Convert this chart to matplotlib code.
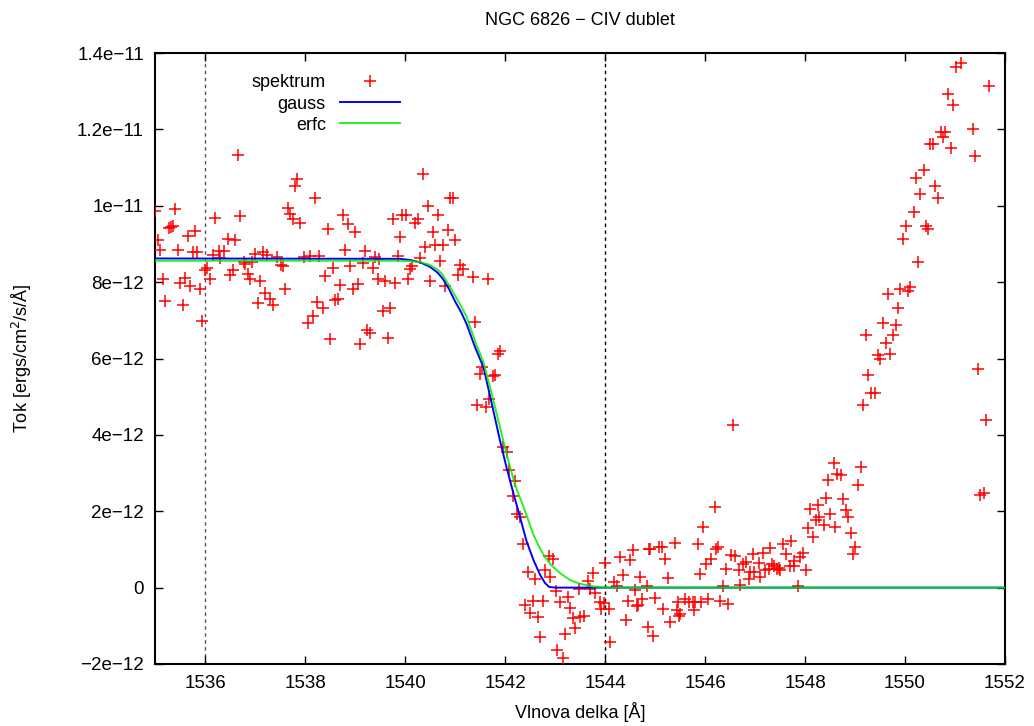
import numpy as np
import matplotlib
matplotlib.use('Agg')
import matplotlib.pyplot as plt

plt.rcParams['font.family'] = ['Liberation Sans', 'DejaVu Sans']
plt.rcParams['axes.unicode_minus'] = True

# spektrum - wavelength [A] and flux [1e-12 ergs/cm2/s/A]
wl = [1535.00, 1535.05, 1535.10, 1535.15, 1535.19, 1535.27, 1535.31, 1535.35, 1535.39, 1535.45,
      1535.50, 1535.55, 1535.59, 1535.65, 1535.69, 1535.75, 1535.79, 1535.83, 1535.90, 1535.94,
      1536.00, 1536.03, 1536.09, 1536.15, 1536.20, 1536.27, 1536.29, 1536.38, 1536.45, 1536.50,
      1536.55, 1536.60, 1536.65, 1536.69, 1536.78, 1536.80, 1536.85, 1536.89, 1536.93, 1536.99,
      1537.05, 1537.09, 1537.15, 1537.20, 1537.23, 1537.29, 1537.35, 1537.43, 1537.51, 1537.55,
      1537.60, 1537.65, 1537.70, 1537.75, 1537.79, 1537.84, 1537.90, 1537.97, 1538.05, 1538.09,
      1538.15, 1538.19, 1538.23, 1538.27, 1538.35, 1538.40, 1538.45, 1538.50, 1538.55, 1538.60,
      1538.65, 1538.70, 1538.75, 1538.80, 1538.85, 1538.90, 1538.95, 1539.00, 1539.05, 1539.10,
      1539.15, 1539.20, 1539.23, 1539.30, 1539.35, 1539.40, 1539.45, 1539.48, 1539.55, 1539.60,
      1539.65, 1539.70, 1539.75, 1539.80, 1539.85, 1539.90, 1539.94, 1540.01, 1540.05, 1540.10,
      1540.13, 1540.20, 1540.25, 1540.30, 1540.35, 1540.40, 1540.45, 1540.50, 1540.55, 1540.59,
      1540.65, 1540.70, 1540.75, 1540.80, 1540.85, 1540.90, 1540.95, 1541.00, 1541.05, 1541.10,
      1541.15, 1541.35, 1541.40, 1541.43, 1541.50, 1541.53, 1541.61, 1541.65, 1541.68, 1541.75,
      1541.79, 1541.85, 1541.89, 1541.95, 1542.03, 1542.08, 1542.15, 1542.20, 1542.23, 1542.30,
      1542.35, 1542.40, 1542.45, 1542.50, 1542.55, 1542.60, 1542.65, 1542.70, 1542.75, 1542.80,
      1542.87, 1542.90, 1542.95, 1543.01, 1543.03, 1543.10, 1543.15, 1543.20, 1543.25, 1543.30,
      1543.35, 1543.40, 1543.47, 1543.50, 1543.57, 1543.65, 1543.70, 1543.75, 1543.80, 1543.89,
      1543.91, 1543.98, 1544.00, 1544.07, 1544.10, 1544.17, 1544.23, 1544.30, 1544.35, 1544.41,
      1544.46, 1544.50, 1544.55, 1544.60, 1544.63, 1544.65, 1544.70, 1544.74, 1544.83, 1544.85,
      1544.87, 1544.90, 1544.95, 1545.00, 1545.07, 1545.13, 1545.15, 1545.20, 1545.25, 1545.30,
      1545.40, 1545.43, 1545.45, 1545.47, 1545.50, 1545.60, 1545.68, 1545.75, 1545.77, 1545.80,
      1545.85, 1545.90, 1545.92, 1545.95, 1546.02, 1546.05, 1546.11, 1546.20, 1546.22, 1546.25,
      1546.30, 1546.35, 1546.41, 1546.45, 1546.51, 1546.55, 1546.60, 1546.67, 1546.70, 1546.75,
      1546.81, 1546.87, 1546.90, 1546.95, 1546.97, 1547.07, 1547.10, 1547.15, 1547.20, 1547.27,
      1547.30, 1547.33, 1547.37, 1547.43, 1547.48, 1547.50, 1547.55, 1547.61, 1547.69, 1547.71,
      1547.77, 1547.78, 1547.85, 1547.90, 1547.95, 1548.01, 1548.06, 1548.10, 1548.15, 1548.21,
      1548.25, 1548.27, 1548.37, 1548.41, 1548.45, 1548.50, 1548.57, 1548.60, 1548.63, 1548.71,
      1548.75, 1548.81, 1548.85, 1548.91, 1548.95, 1549.00, 1549.05, 1549.11, 1549.16, 1549.21,
      1549.26, 1549.31, 1549.40, 1549.45, 1549.50, 1549.55, 1549.61, 1549.65, 1549.70, 1549.75,
      1549.81, 1549.85, 1549.90, 1549.96, 1550.01, 1550.05, 1550.09, 1550.17, 1550.21, 1550.25,
      1550.30, 1550.37, 1550.41, 1550.45, 1550.50, 1550.55, 1550.60, 1550.65, 1550.71, 1550.75,
      1550.80, 1550.85, 1550.91, 1550.95, 1551.01, 1551.12, 1551.35, 1551.40, 1551.45, 1551.50,
      1551.57, 1551.61, 1551.67]
flux = [9.85, 9.10, 8.83, 8.07, 7.51, 9.42, 9.44, 9.47, 9.91, 8.83,
        7.99, 7.39, 8.12, 9.21, 7.89, 8.78, 9.34, 8.80, 7.81, 6.99,
        8.31, 8.37, 8.09, 8.70, 9.68, 8.81, 8.62, 8.81, 9.12, 8.18,
        8.31, 9.10, 11.32, 9.72, 8.52, 8.48, 8.22, 8.08, 8.54, 8.73,
        7.46, 8.03, 8.79, 7.72, 8.70, 7.57, 7.40, 8.67, 8.44, 8.41,
        7.83, 9.93, 9.78, 9.65, 10.52, 10.71, 9.54, 8.66, 6.92, 8.69,
        7.11, 10.21, 7.48, 8.68, 7.31, 8.16, 9.38, 6.51, 8.37, 7.52,
        7.57, 7.93, 9.75, 8.83, 9.51, 8.41, 7.83, 9.31, 7.96, 6.39,
        8.50, 8.82, 6.74, 6.68, 8.37, 8.66, 8.09, 8.60, 7.24, 8.02,
        6.53, 7.31, 9.64, 7.98, 8.68, 9.18, 9.77, 9.77, 8.07, 8.35,
        8.41, 9.56, 9.66, 8.62, 10.83, 8.92, 9.99, 8.02, 9.30, 8.96,
        9.75, 8.56, 8.96, 7.90, 9.36, 10.21, 10.21, 9.10, 8.18, 8.46,
        8.34, 8.13, 6.95, 4.77, 5.60, 5.77, 4.73, 8.09, 4.95, 5.54,
        5.58, 6.11, 6.19, 3.68, 3.55, 3.07, 2.41, 2.79, 1.93, 1.84,
        1.13, -0.45, 0.40, -0.67, -0.34, 0.23, -0.76, -1.30, -0.34, 0.45,
        0.84, 0.27, 0.75, -0.08, -1.63, -0.38, -1.83, -1.21, -0.24, -0.54,
        -0.80, -1.07, -0.03, -0.78, -0.73, 0.17, -0.03, 0.37, -0.14, -0.38,
        -0.56, -0.41, 0.64, -0.56, -1.43, 0.14, 0.03, 0.81, 0.33, -0.85,
        -0.34, 0.73, 0.99, -0.06, -0.47, -0.45, 0.29, -0.30, 0.05, -1.02,
        1.01, 1.01, -1.26, -0.28, 1.06, 1.06, -0.55, 0.75, 0.25, -0.91,
        1.16, -0.58, -0.37, -0.73, -0.69, -0.31, -0.37, -0.38, -0.58, -0.37,
        1.15, 0.36, -0.38, 1.60, 0.62, -0.31, 0.75, 2.10, 1.01, 1.06,
        -0.34, 0.03, 0.49, -0.43, 0.86, 4.26, 0.84, 0.46, 0.07, 0.62,
        0.68, 0.23, 0.40, 0.88, 0.40, 0.64, 0.29, 0.91, 0.47, 0.49,
        1.03, 0.62, 0.56, 0.49, 0.51, 0.45, 1.13, 0.87, 0.56, 1.23,
        0.69, 0.56, 0.03, 0.79, 0.91, 0.45, 1.56, 2.05, 1.32, 1.76,
        2.17, 1.84, 1.63, 2.35, 2.83, 1.93, 3.27, 1.60, 2.98, 2.95,
        2.33, 2.04, 1.84, 1.43, 0.87, 1.06, 2.69, 3.17, 4.79, 6.61,
        5.56, 5.10, 5.10, 6.08, 5.99, 6.93, 6.40, 7.70, 6.13, 6.61,
        6.89, 7.33, 7.81, 9.14, 9.47, 7.76, 7.87, 9.84, 10.73, 8.53,
        10.32, 10.93, 9.47, 9.38, 11.63, 11.63, 10.51, 10.21, 11.92, 11.80,
        11.92, 12.92, 11.52, 12.63, 13.64, 13.73, 12.02, 11.31, 5.73, 2.43,
        2.47, 4.40, 13.13]

# fitted profiles
gauss_wl = [1535.0, 1539.9, 1540.1, 1540.3, 1540.5, 1540.65, 1540.75, 1540.88, 1541.0,
            1541.12, 1541.23, 1541.4, 1541.57, 1541.73, 1541.9, 1542.03, 1542.17, 1542.3,
            1542.43, 1542.57, 1542.7, 1542.8, 1542.88, 1543.0, 1552.0]
gauss_fl = [8.62, 8.61, 8.58, 8.52, 8.40, 8.25, 8.10, 7.82, 7.50,
            7.22, 6.91, 6.30, 5.77, 4.85, 3.85, 3.15, 2.46, 1.85,
            1.22, 0.72, 0.34, 0.12, 0.02, 0.0, 0.0]
erfc_wl = [1535.0, 1539.9, 1540.1, 1540.3, 1540.5, 1540.65, 1540.75, 1540.9, 1541.03,
           1541.13, 1541.23, 1541.43, 1541.57, 1541.73, 1541.9, 1542.05, 1542.2, 1542.43,
           1542.57, 1542.7, 1542.8, 1542.93, 1543.1, 1543.3, 1543.5, 1543.77, 1544.1, 1552.0]
erfc_fl = [8.56, 8.56, 8.55, 8.53, 8.45, 8.33, 8.20, 7.88, 7.58,
           7.35, 7.10, 6.35, 5.90, 5.10, 4.20, 3.40, 2.70, 1.90,
           1.38, 1.02, 0.80, 0.58, 0.38, 0.20, 0.10, 0.03, 0.0, 0.0]

yticks = [-2e-12, 0, 2e-12, 4e-12, 6e-12, 8e-12, 1e-11, 1.2e-11, 1.4e-11]
ylabels = ['\u22122e\u221212', '0', '2e\u221212', '4e\u221212', '6e\u221212', '8e\u221212',
           '1e\u221211', '1.2e\u221211', '1.4e\u221211']

fig = plt.figure(figsize=(10.34, 7.26), dpi=100)
ax = fig.add_axes([155/1034, 1-664/726, 850/1034, 611/726])

ax.axvline(1536, color='#555555', lw=1, ls=(0, (2.5, 2.5)), zorder=1)
ax.axvline(1544, color='black', lw=1, ls=(0, (2.5, 2.5)), zorder=1)

ax.plot(wl, np.array(flux) * 1e-12, ls='none', marker='+', color='red', ms=8, mew=1.1,
        label='spektrum', zorder=3)
ax.plot(gauss_wl, np.array(gauss_fl) * 1e-12, color='#0000ff', lw=1.4, label='gauss', zorder=4)
ax.plot(erfc_wl, np.array(erfc_fl) * 1e-12, color='#00ee00', lw=1.4, alpha=0.85,
        label='erfc', zorder=5)

ax.set_xlim(1535, 1552)
ax.set_ylim(-2e-12, 1.4e-11)
ax.set_xticks(range(1536, 1553, 2))
ax.set_yticks(yticks)
ax.set_yticklabels(ylabels)
ax.tick_params(direction='in', length=6, width=1, top=True, right=True, labelsize=13.5, pad=8)
for s in ax.spines.values():
    s.set_linewidth(1.5)

ax.set_title('NGC 6826 \u2212 CIV dublet', fontsize=13, pad=20.5)
ax.set_xlabel('Vlnova delka [\u00c5]', fontsize=13, labelpad=7)
ax.set_ylabel('Tok [ergs/cm$^2$/s/\u00c5]', fontsize=13, labelpad=31)

ax.legend(loc='upper right', bbox_to_anchor=(0.288, 0.965), markerfirst=False, frameon=False,
          fontsize=13, handlelength=3.3, handletextpad=0.8, labelspacing=0.23,
          borderaxespad=0, borderpad=0)

plt.savefig('out.png', dpi=100)
